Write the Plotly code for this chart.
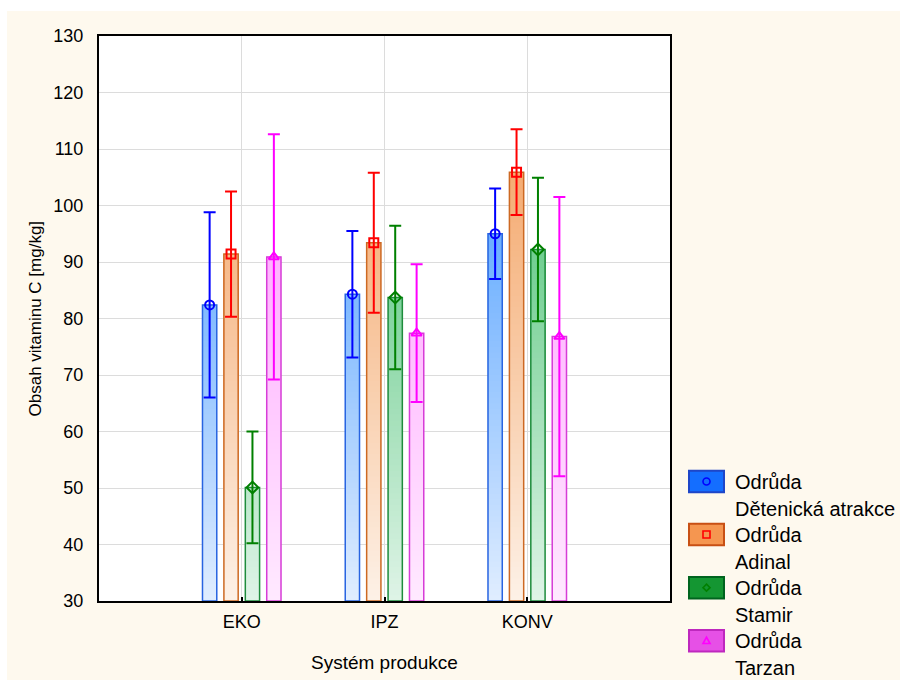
import numpy as np
import plotly.graph_objects as go

# --- data -------------------------------------------------------------
categories = ["EKO", "IPZ", "KONV"]
series_names = ["Dětenická atrakce", "Adinal", "Stamir", "Tarzan"]

detenicka_mean = [82.4, 84.3, 95.0]
adinal_mean = [91.4, 93.4, 105.9]
stamir_mean = [50.1, 83.7, 92.2]
tarzan_mean = [90.9, 77.4, 76.8]

detenicka_err = [16.4, 11.2, 8.0]
adinal_err = [11.1, 12.4, 7.6]
stamir_err = [9.9, 12.7, 12.7]
tarzan_err = [21.7, 12.2, 24.7]

y_ticks = [30, 40, 50, 60, 70, 80, 90, 100, 110, 120, 130]

# --- styling ------------------------------------------------------------
FONT = "Arial, Liberation Sans, sans-serif"
Y_MIN, Y_MAX = 30, 130
GRAD_TOP = 110  # value at which the fill reaches full strength

styles = [
    dict(pale=(224, 237, 255), sat=(80, 160, 255), edge="rgb(40,100,225)",
         mark="rgb(0,0,255)", symbol="circle-open",
         box="rgb(20,110,255)", box_edge="rgb(30,70,200)"),
    dict(pale=(253, 241, 231), sat=(244, 168, 108), edge="rgb(205,105,35)",
         mark="rgb(255,0,0)", symbol="square-open",
         box="rgb(245,150,80)", box_edge="rgb(200,80,20)"),
    dict(pale=(223, 244, 231), sat=(80, 195, 120), edge="rgb(30,140,60)",
         mark="rgb(0,128,0)", symbol="diamond-open",
         box="rgb(20,150,50)", box_edge="rgb(0,100,30)"),
    dict(pale=(255, 233, 255), sat=(255, 160, 255), edge="rgb(215,60,215)",
         mark="rgb(255,0,255)", symbol="triangle-up-open",
         box="rgb(230,80,230)", box_edge="rgb(190,40,190)"),
]

means = [detenicka_mean, adinal_mean, stamir_mean, tarzan_mean]
errors = [detenicka_err, adinal_err, stamir_err, tarzan_err]

positions = np.arange(len(categories))
group_offsets = [-0.225, -0.075, 0.075, 0.225]
BAR_W = 0.1


def grad_color(pale, sat, level):
    t = min(max((level - Y_MIN) / (GRAD_TOP - Y_MIN), 0.0), 1.0)
    r, g, b = (round(p + (s - p) * t) for p, s in zip(pale, sat))
    return f"rgb({r},{g},{b})"


fig = go.Figure()

for si, (vals, errs, st, off) in enumerate(zip(means, errors, styles, group_offsets)):
    xs = positions + off
    # vertical gradient: stacked slices from each level up to the bar top
    gx, gbase, gh, gcol = [], [], [], []
    for x, v in zip(xs, vals):
        for level in np.arange(Y_MIN, v, 1.0):
            gx.append(x)
            gbase.append(level)
            gh.append(v - level)
            gcol.append(grad_color(st["pale"], st["sat"], level + 0.5))
    fig.add_trace(go.Bar(
        x=gx, y=gh, base=gbase, width=BAR_W,
        marker=dict(color=gcol, line=dict(width=0)),
        showlegend=False, hoverinfo="skip",
    ))
    # bar outline
    fig.add_trace(go.Bar(
        x=xs, y=[v - Y_MIN for v in vals], base=Y_MIN, width=BAR_W,
        marker=dict(color="rgba(0,0,0,0)", line=dict(color=st["edge"], width=1.5)),
        showlegend=False, name=series_names[si],
    ))

# means with error bars
for si, (vals, errs, st, off) in enumerate(zip(means, errors, styles, group_offsets)):
    fig.add_trace(go.Scatter(
        x=positions + off, y=vals, mode="markers",
        marker=dict(symbol=st["symbol"], size=9, color=st["mark"],
                    line=dict(width=2, color=st["mark"])),
        error_y=dict(type="data", array=errs, symmetric=True,
                     color=st["mark"], thickness=2, width=6),
        showlegend=False, name=series_names[si],
    ))

# --- page geometry helpers ---------------------------------------------
W, H = 900, 680
ML, MR, MT, MB = 99, 230, 36, 79
PW, PH = W - ML - MR, H - MT - MB


def px(xp):
    return (xp - ML) / PW


def py(yp):
    return (H - MB - yp) / PH


shapes = [
    # cream page with a thin white rim at top/left
    dict(type="rect", xref="paper", yref="paper", layer="below",
         x0=px(7), x1=px(W + 5), y0=py(H + 5), y1=py(11),
         fillcolor="#FEF9EE", line=dict(width=0)),
    dict(type="rect", xref="paper", yref="paper", layer="below",
         x0=0, x1=1, y0=0, y1=1, fillcolor="white", line=dict(width=0)),
]
annotations = []

# legend: coloured box with the series' marker, two-line label
box_x0, box_x1 = 689, 724
box_h = 21.5
for i, (name, st) in enumerate(zip(series_names, styles)):
    top = 470.7 + 53.1 * i
    cy = top + box_h / 2
    cx = (box_x0 + box_x1) / 2
    shapes.append(dict(type="rect", xref="paper", yref="paper", layer="above",
                       x0=px(box_x0), x1=px(box_x1), y0=py(top + box_h), y1=py(top),
                       fillcolor=st["box"], line=dict(color=st["box_edge"], width=2)))
    r = 3.5
    line = dict(color=st["mark"], width=1.6)
    if st["symbol"].startswith("circle"):
        shapes.append(dict(type="circle", xref="paper", yref="paper",
                           x0=px(cx - r), x1=px(cx + r), y0=py(cy + r), y1=py(cy - r),
                           line=line))
    elif st["symbol"].startswith("square"):
        shapes.append(dict(type="rect", xref="paper", yref="paper",
                           x0=px(cx - r), x1=px(cx + r), y0=py(cy + r), y1=py(cy - r),
                           line=line))
    elif st["symbol"].startswith("diamond"):
        pts = [(cx, cy - r), (cx + r, cy), (cx, cy + r), (cx - r, cy)]
        path = "M " + " L ".join(f"{px(a)},{py(b)}" for a, b in pts) + " Z"
        shapes.append(dict(type="path", xref="paper", yref="paper", path=path, line=line))
    else:
        pts = [(cx, cy - r), (cx + r, cy + r * 0.8), (cx - r, cy + r * 0.8)]
        path = "M " + " L ".join(f"{px(a)},{py(b)}" for a, b in pts) + " Z"
        shapes.append(dict(type="path", xref="paper", yref="paper", path=path, line=line))
    annotations.append(dict(xref="paper", yref="paper", x=px(733), y=py(cy + 0.5),
                            xanchor="left", yanchor="middle", showarrow=False,
                            text="Odrůda", font=dict(size=20, color="black", family=FONT)))
    annotations.append(dict(xref="paper", yref="paper", x=px(733), y=py(cy + 27.5),
                            xanchor="left", yanchor="middle", showarrow=False,
                            text=name, font=dict(size=20, color="black", family=FONT)))

# axis titles
annotations.append(dict(xref="paper", yref="paper", x=0.5, y=py(662),
                        xanchor="center", yanchor="middle", showarrow=False,
                        text="Systém produkce", font=dict(size=19, color="black", family=FONT)))
annotations.append(dict(xref="paper", yref="paper", x=px(35), y=0.5,
                        xanchor="center", yanchor="middle", showarrow=False, textangle=-90,
                        text="Obsah vitaminu C [mg/kg]", font=dict(size=17, color="black", family=FONT)))

fig.update_layout(
    width=W, height=H, autosize=False,
    margin=dict(l=ML, r=MR, t=MT, b=MB, pad=0),
    paper_bgcolor="white", plot_bgcolor="white",
    barmode="overlay", showlegend=False,
    font=dict(family=FONT, color="black"),
    shapes=shapes, annotations=annotations,
    xaxis=dict(range=[-1, 3], tickvals=positions, ticktext=categories,
               showgrid=True, gridcolor="#dcdcdc", gridwidth=1, zeroline=False,
               ticks="inside", ticklen=4, tickcolor="black", tickwidth=2,
               showline=True, mirror=True, linecolor="black", linewidth=2,
               tickfont=dict(size=18), ticklabelstandoff=3),
    yaxis=dict(range=[Y_MIN, Y_MAX], tickvals=y_ticks,
               showgrid=True, gridcolor="#dcdcdc", gridwidth=1, zeroline=False,
               ticks="", showline=True, mirror=True, linecolor="black", linewidth=2,
               tickfont=dict(size=18), ticklabelstandoff=10),
)

fig.write_html("out.html")
